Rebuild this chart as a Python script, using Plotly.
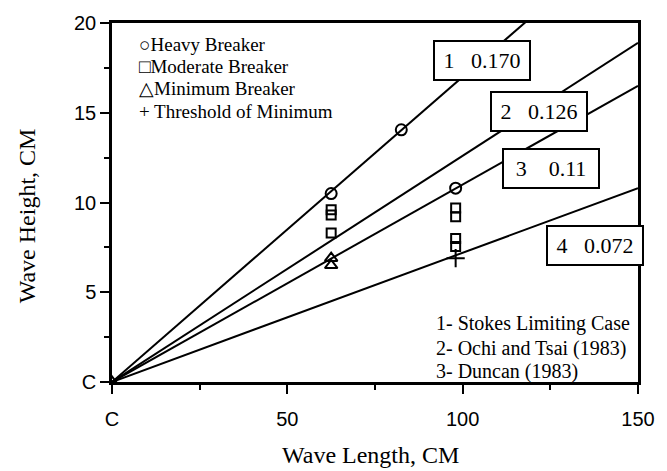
import plotly.graph_objects as go

# Breaker observations (wave length L, wave height H), in cm
heavy_x = [62.5, 82.5, 98]
heavy_y = [10.5, 14.05, 10.8]
moderate_x = [62.5, 62.5, 62.5, 98, 98, 98, 98]
moderate_y = [9.6, 9.3, 8.3, 9.7, 9.2, 8.0, 7.55]
minimum_x = [0, 62.5, 62.5]
minimum_y = [0, 6.9, 6.5]
threshold_x = [98]
threshold_y = [6.9]

# Limiting steepness lines H = s * L
line_ids = ["1", "2", "3", "4"]
line_slopes = [0.170, 0.126, 0.11, 0.072]
label_gaps = [3, 3, 4, 3]
label_x = [105.4, 121.8, 125.1, 137.6]
label_y = [17.9, 15.05, 11.9, 7.6]

x_ticks = [0, 50, 100, 150]
x_ticktext = ["C", "50", "100", "150"]
y_ticks = [0, 5, 10, 15, 20]
y_ticktext = ["C", "5", "10", "15", "20"]

legend_lines = ["\u25CBHeavy Breaker", "\u25A1Moderate Breaker",
                "\u25B3Minimum Breaker", "+ Threshold of Minimum"]
source_lines = ["1- Stokes Limiting Case", "2- Ochi and Tsai (1983)",
                "3- Duncan (1983)"]

SERIF = "Liberation Serif, Times New Roman, serif"
SANS = "Liberation Sans, Arial, sans-serif"

fig = go.Figure()

L_end = 150
for lid, s in zip(line_ids, line_slopes):
    fig.add_trace(go.Scatter(x=[0, L_end], y=[0, s * L_end], mode="lines",
                             line=dict(color="black", width=2),
                             showlegend=False, hoverinfo="skip"))

mk_line = dict(color="black", width=2)
fig.add_trace(go.Scatter(x=heavy_x, y=heavy_y, mode="markers",
                         marker=dict(symbol="circle-open", size=11, color="black", line=mk_line),
                         showlegend=False))
fig.add_trace(go.Scatter(x=moderate_x, y=moderate_y, mode="markers",
                         marker=dict(symbol="square-open", size=9, color="black", line=mk_line),
                         showlegend=False))
fig.add_trace(go.Scatter(x=minimum_x, y=minimum_y, mode="markers",
                         marker=dict(symbol="triangle-up-open", size=11, color="black", line=mk_line),
                         showlegend=False))
fig.add_trace(go.Scatter(x=threshold_x, y=threshold_y, mode="markers",
                         marker=dict(symbol="cross-thin-open", size=13, color="black", line=mk_line),
                         showlegend=False))

annotations = []
for lid, s, gap, ax_, ay_ in zip(line_ids, line_slopes, label_gaps, label_x, label_y):
    s_txt = f"{s:.3f}" if lid != "3" else f"{s:.2f}"
    txt = lid + "&nbsp;" * gap + s_txt
    annotations.append(dict(x=ax_, y=ay_, xref="x", yref="y", text=txt,
                            showarrow=False, font=dict(family=SERIF, size=22, color="black"),
                            bgcolor="white", bordercolor="black", borderwidth=2,
                            width=90, height=33, borderpad=2))

legend_y = [18.83, 17.6, 16.33, 15.05]
for txt, yy in zip(legend_lines, legend_y):
    annotations.append(dict(x=7.0, y=yy, xref="x", yref="y", text=txt, xanchor="left",
                            showarrow=False, font=dict(family=SERIF, size=19, color="black")))

source_y = [3.28, 1.89, 0.56]
for txt, yy in zip(source_lines, source_y):
    annotations.append(dict(x=91.8, y=yy, xref="x", yref="y", text=txt, xanchor="left",
                            showarrow=False, font=dict(family=SERIF, size=20, color="black")))

# axis titles
annotations.append(dict(x=0.4915, y=-0.203, xref="paper", yref="paper",
                        text="Wave Length, CM", showarrow=False,
                        xanchor="center", yanchor="middle",
                        font=dict(family=SERIF, size=24, color="black")))
annotations.append(dict(x=-0.16, y=0.464, xref="paper", yref="paper",
                        text="Wave Height, CM", showarrow=False, textangle=-90,
                        xanchor="center", yanchor="middle",
                        font=dict(family=SERIF, size=24, color="black")))

fig.update_layout(
    width=667, height=471,
    margin=dict(l=112, r=24, t=22, b=89),
    paper_bgcolor="white", plot_bgcolor="white",
    annotations=annotations,
    xaxis=dict(range=[0, 150], tickvals=x_ticks, ticktext=x_ticktext,
               showgrid=False, zeroline=False, showline=True, linecolor="black",
               linewidth=2.5, mirror=True, ticks="outside", ticklen=9, tickwidth=2,
               tickcolor="black", ticklabelstandoff=8,
               minor=dict(tickvals=[25, 75, 125], ticks="outside", ticklen=5,
                          tickwidth=2, tickcolor="black"),
               tickfont=dict(family=SANS, size=20, color="black")),
    yaxis=dict(range=[0, 20], tickvals=y_ticks, ticktext=y_ticktext,
               showgrid=False, zeroline=False, showline=True, linecolor="black",
               linewidth=2.5, mirror=True, ticks="outside", ticklen=9, tickwidth=2,
               tickcolor="black",
               minor=dict(tickvals=[2.5, 7.5, 12.5, 17.5], ticks="outside", ticklen=5,
                          tickwidth=2, tickcolor="black"),
               tickfont=dict(family=SANS, size=20, color="black")),
)

fig.write_html("out.html")
